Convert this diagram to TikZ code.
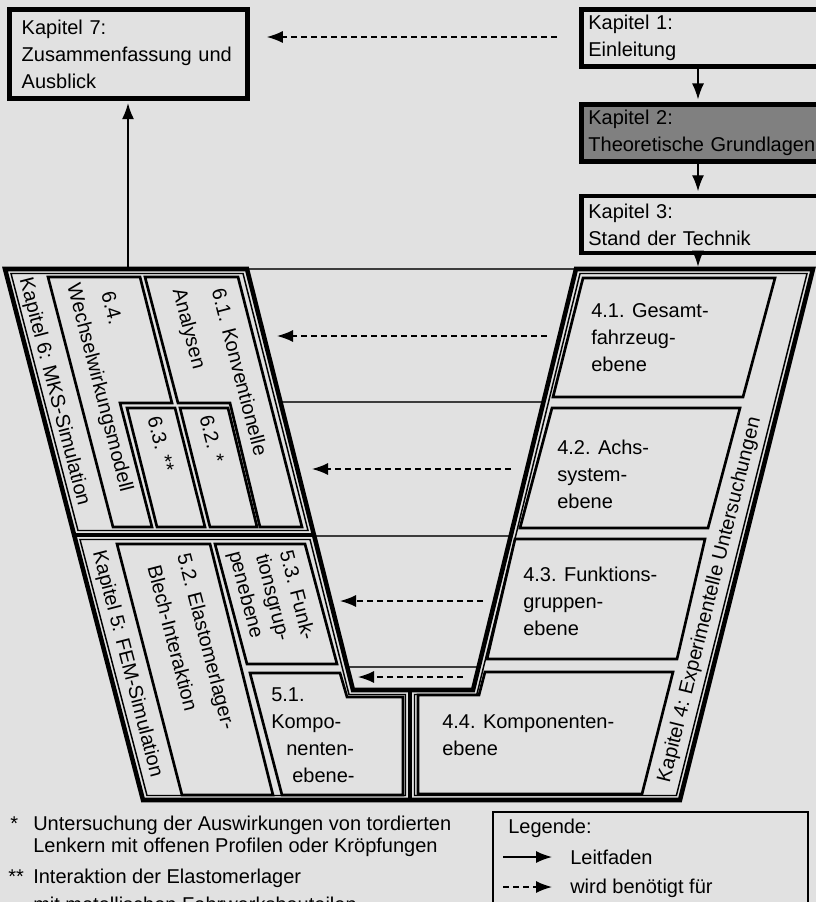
\documentclass[tikz,border=0pt]{standalone}
\usepackage{fontspec}
\setmainfont{Liberation Sans}
\usetikzlibrary{arrows.meta,positioning}
\definecolor{bgc}{RGB}{225,225,225}
\definecolor{kapgray}{RGB}{128,128,128}
\definecolor{lvlc}{RGB}{60,60,60}

\begin{document}
\begin{tikzpicture}[x=0.75pt,y=-0.75pt,
  txt/.style={inner sep=0pt,align=left,font=\fontsize{15}{20.25}\selectfont},
  rtxt/.style={txt,rotate=-75.5},
  kapbox/.style={draw,line width=3.6pt,fill=bgc,inner sep=0pt,minimum width=188.25pt,minimum height=42.75pt,text width=177.75pt,align=left,font=\fontsize{15}{20.25}\selectfont},
  rand/.style={line width=3.4pt,line join=miter},
  innen/.style={line width=1.1pt},
  feld/.style={line width=2pt},
  ebene/.style={line width=0.8pt,lvlc},
  lead/.style={line width=1.1pt,-{Latex[length=12pt,width=9pt]}},
  needs/.style={lead,dash pattern=on 4.5pt off 3pt}]
\useasboundingbox (0,0) rectangle (816,902);
\clip (0,0) rectangle (816,902);
\fill[bgc] (0,0) rectangle (816,902);

% Kapitel 1 bis 3 und 7
\node[kapbox,minimum width=178.5pt,minimum height=66.75pt,text width=160pt,anchor=north west] (k7) at (7,7) {Kapitel 7:\\Zusammenfassung und\\Ausblick};
\node[kapbox,anchor=north west] (k1) at (579,7) {Kapitel 1:\\Einleitung};
\node[kapbox,fill=kapgray,below=24.75pt of k1] (k2) {Kapitel 2:\\Theoretische Grundlagen};
\node[kapbox,below=22.5pt of k2] (k3) {Kapitel 3:\\Stand der Technik};

% Ebenen
\draw[ebene] (247,269) -- (576,269);
\draw[ebene] (280.5,402) -- (543.4,402);
\draw[ebene] (314,536) -- (510.6,536);
\draw[ebene] (347.3,667) -- (478.5,667);

% V-Rahmen
\draw[rand] (5,269) -- (247,269) -- (353,690) -- (473,690) -- (576,269) -- (813,269) -- (680,800) -- (143,800) -- cycle;
\draw[rand] (74,535) -- (314,535);
\draw[rand] (410,690) -- (410,800);
\draw[innen] (11,273.5) -- (243,273.5) -- (308,530.5) -- (78,530.5) -- cycle;
\draw[innen] (80,539.5) -- (310,539.5) -- (349,694.5) -- (405.5,694.5) -- (405.5,795.5) -- (147,795.5) -- cycle;
\draw[innen] (580,273.5) -- (807,273.5) -- (676.4,795.5) -- (414.5,795.5) -- (414.5,694.5) -- (476.8,694.5) -- cycle;

% Unterkapitel
\draw[feld] (48,277) -- (140,277) -- (172,403) -- (120,403) -- (152,527) -- (113,527) -- cycle;
\draw[feld] (145,277) -- (238,277) -- (302,527) -- (260,527) -- (230,403) -- (178,403) -- cycle;
\draw[feld] (127,408) -- (175,408) -- (205,527) -- (157,527) -- cycle;
\draw[feld] (180,408) -- (228,408) -- (257,527) -- (210,527) -- cycle;
\draw[feld] (117,544) -- (210,544) -- (273,795) -- (182,795) -- cycle;
\draw[feld] (215,544) -- (305,544) -- (337,664) -- (247,664) -- cycle;
\draw[feld] (250,673) -- (340,673) -- (347,697) -- (403,697) -- (403,795) -- (282,795) -- cycle;
\draw[feld] (583,278) -- (775,278) -- (743,397) -- (553,397) -- cycle;
\draw[feld] (552,408) -- (740,408) -- (708,528) -- (520,528) -- cycle;
\draw[feld] (515,539) -- (705,539) -- (677,659) -- (487,659) -- cycle;
\draw[feld] (485,672) -- (673,672) -- (642,794) -- (418,794) -- (418,695) -- (479,695) -- cycle;

% Texte im V
\node[rtxt] (k6lab) at (54,392) {Kapitel 6: MKS-Simulation};
\node[rtxt] (k5lab) at (127,664) {Kapitel 5: FEM-Simulation};
\node[txt,rotate=76] (k4lab) at (710,600) {Kapitel 4: Experimentelle Untersuchungen};
\node[rtxt] (t61a) at (240,372) {6.1. Konventionelle};
\node[rtxt] (t61b) at (188,329) {Analysen};
\node[rtxt] (t62) at (212,439) {6.2. *};
\node[rtxt] (t63) at (161,444) {6.3. **};
\node[rtxt] (t64a) at (112,308) {6.4.};
\node[rtxt] (t64b) at (99,388) {Wechselwirkungsmodell};
\node[rtxt] (t52a) at (205,642) {5.2. Elastomerlager-};
\node[rtxt] (t52b) at (173,638) {Blech-Interaktion};
\node[rtxt] (t53a) at (298,595) {5.3. Funk-};
\node[rtxt] (t53b) at (272,598) {tionsgrup-};
\node[rtxt] (t53c) at (245,595) {penebene};
\node[txt,anchor=north west] (t51) at (271,687) {5.1.\\Kompo-\\\hspace*{11.25pt}nenten-\\\hspace*{15.75pt}ebene-};
\node[txt,anchor=north west] (t41) at (591,303) {4.1. Gesamt-\\fahrzeug-\\ebene};
\node[txt,anchor=north west] (t42) at (557,440) {4.2. Achs-\\system-\\ebene};
\node[txt,anchor=north west] (t43) at (523,567) {4.3. Funktions-\\gruppen-\\ebene};
\node[txt,anchor=north west] (t44) at (442,714) {4.4. Komponenten-\\ebene};

% Pfeile
\coordinate (spine) at (698,0);
\coordinate (vR) at (698,269);
\coordinate (vL) at (128,269);
\coordinate (topy) at (0,37);
\draw[lead,shorten >=1.75pt] (k1.south -| spine) -- (k2.north -| spine);
\draw[lead,shorten >=1.75pt] (k2.south -| spine) -- (k3.north -| spine);
\draw[lead,shorten >=1.75pt] (k3.south -| spine) -- (vR);
\draw[lead,shorten >=1.75pt] (vL) -- (k7.south -| vL);
\draw[needs,shorten <=16.5pt,shorten >=12.75pt] (k1.west |- topy) -- (k7.east |- topy);
\coordinate (e1r) at (547,336); \coordinate (e1l) at (277,336);
\coordinate (e2r) at (511,469); \coordinate (e2l) at (312,469);
\coordinate (e3r) at (483,601); \coordinate (e3l) at (340,601);
\coordinate (e4r) at (463,677); \coordinate (e4l) at (358,677);
\draw[needs] (e1r) -- (e1l);
\draw[needs] (e2r) -- (e2l);
\draw[needs] (e3r) -- (e3l);
\draw[needs] (e4r) -- (e4l);

% Fussnoten
\node[txt,anchor=base west] (st1) at (10,830) {*};
\node[txt,anchor=north west,font=\fontsize{15}{16.5}\selectfont] (fn1) at (33,815.7) {Untersuchung der Auswirkungen von tordierten\\Lenkern mit offenen Profilen oder Kröpfungen};
\node[txt,anchor=base west] (st2) at (8,883) {**};
\node[txt,anchor=north west,font=\fontsize{15}{16.5}\selectfont] (fn2) at (33,868.7) {Interaktion der Elastomerlager\\[4.5pt]mit metallischen Fahrwerksbauteilen};

% Legende
\draw[line width=1.1pt] (493,812) rectangle (808,920);
\node[txt,anchor=base west] (leg) at (508,833) {Legende:};
\coordinate (la) at (503,857); \coordinate (lb) at (552,857);
\coordinate (lc) at (503,887); \coordinate (ld) at (552,887);
\draw[lead] (la) -- (lb);
\draw[needs] (lc) -- (ld);
\node[txt,anchor=base west] (legl) at (570,864) {Leitfaden};
\node[txt,anchor=base west] (legn) at (570,893) {wird benötigt für};
\end{tikzpicture}
\end{document}
